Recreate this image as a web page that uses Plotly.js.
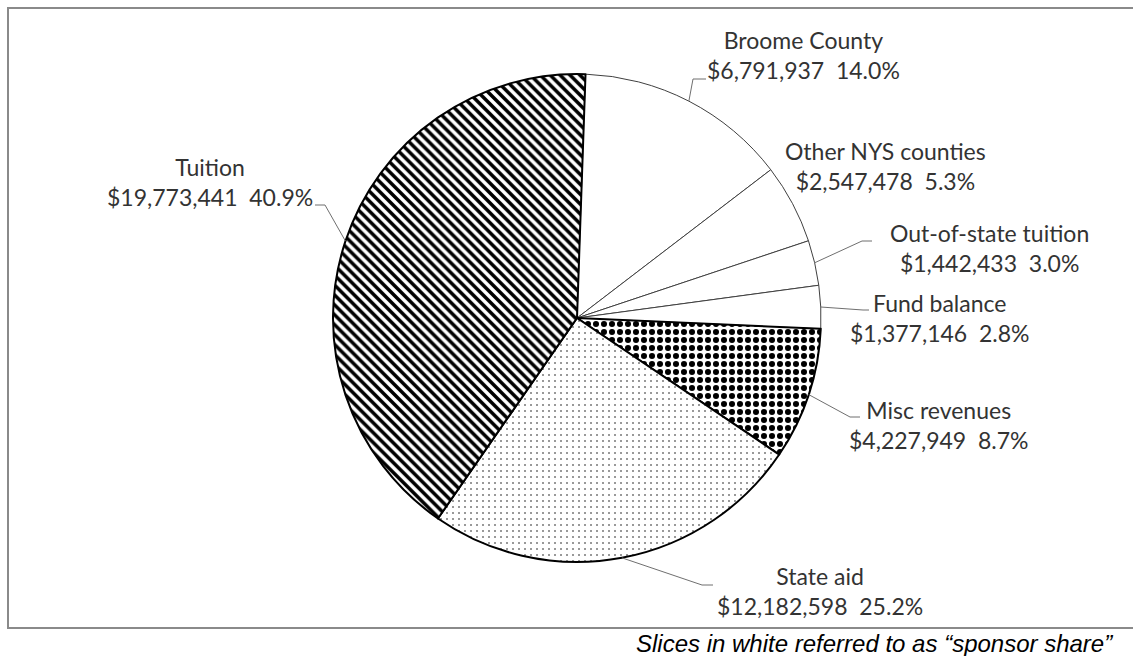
<!DOCTYPE html>
<html>
<head>
<meta charset="utf-8">
<script src="https://cdn.plot.ly/plotly-3.0.1.min.js"></script>
<style>
  html, body { margin: 0; padding: 0; background: #ffffff; }
  #chart { width: 1133px; height: 656px; }
</style>
</head>
<body>
<div id="chart"></div>
<script>
// ---- Data ----
const categories = ["Broome County", "Other NYS counties", "Out-of-state tuition", "Fund balance", "Misc revenues", "State aid", "Tuition"];
const amounts = [6791937, 2547478, 1442433, 1377146, 4227949, 12182598, 19773441];
const footnote = "Slices in white referred to as \u201csponsor share\u201d";

// ---- Styles ----
const patternShapes = ["", "", "", "", ".", ".", "\\"];
const patternSizes = [8, 8, 8, 8, 8, 6, 7];
const patternSolidity = [0.3, 0.3, 0.3, 0.3, 0.45, 0.05, 0.5];
const lineColors = ["#404040", "#404040", "#404040", "#404040", "#000000", "#000000", "#000000"];
const lineWidths = [1, 1, 1, 1, 2, 2, 2];

// ---- Layout geometry (pixels) ----
const W = 1133, H = 656;
const CX = 577, CY = 318, R = 244;
const ROTATION = 2;
const px = x => x / W;
const py = y => 1 - y / H;

// label block centres and leader elbows/ends (pixels); null = no leader
const labelPos = [[803, 55], [885, 166], [989, 248], [939, 318], [938, 425], [820, 591], [210, 182]];
const leaderElbow = [[693, 79], null, [862, 241], [863, 310], [850, 417], [702, 585], [325, 205]];
const leaderEnd = [[706, 79], null, [872, 241], [869, 310], [860, 417], [713, 585], [315, 205]];

const total = amounts.reduce((a, b) => a + b, 0);
const fmtMoney = v => "$" + String(v).replace(/\B(?=(\d{3})+(?!\d))/g, ",");

const annotations = [];
const shapes = [];
let cum = 0;
categories.forEach((cat, i) => {
  const frac = amounts[i] / total;
  const mid = (ROTATION + (cum + frac / 2) * 360) * Math.PI / 180;
  cum += frac;
  const pct = (frac * 100).toFixed(1);
  annotations.push({
    xref: "paper", yref: "paper",
    x: px(labelPos[i][0]), y: py(labelPos[i][1]),
    xanchor: "center", yanchor: "middle", align: "center",
    showarrow: false,
    text: cat + "<br>" + fmtMoney(amounts[i]) + "\u00a0 " + pct + "%",
    font: { family: "Lato, 'Open Sans', sans-serif", size: 23, color: "#333333" }
  });
  if (leaderElbow[i]) {
    const sx = CX + R * Math.sin(mid), sy = CY - R * Math.cos(mid);
    const lineStyle = { color: "#6f6f6f", width: 1 };
    shapes.push({ type: "line", xref: "paper", yref: "paper",
      x0: px(sx), y0: py(sy), x1: px(leaderElbow[i][0]), y1: py(leaderElbow[i][1]), line: lineStyle });
    shapes.push({ type: "line", xref: "paper", yref: "paper",
      x0: px(leaderElbow[i][0]), y0: py(leaderElbow[i][1]), x1: px(leaderEnd[i][0]), y1: py(leaderEnd[i][1]), line: lineStyle });
  }
});

// frame
shapes.push({ type: "rect", xref: "paper", yref: "paper",
  x0: px(8), y0: py(628), x1: px(1136), y1: py(8),
  line: { color: "#8a8a8a", width: 2 }, fillcolor: "rgba(0,0,0,0)", layer: "below" });

annotations.push({
  xref: "paper", yref: "paper", x: px(1115), y: py(643),
  xanchor: "right", yanchor: "middle", showarrow: false,
  text: "<i>" + footnote + "</i>",
  font: { family: "'Liberation Sans', Arial, sans-serif", size: 24, color: "#000000" }
});

const trace = {
  type: "pie",
  labels: categories,
  values: amounts,
  sort: false,
  direction: "clockwise",
  rotation: ROTATION,
  textinfo: "none",
  hoverinfo: "skip",
  domain: { x: [px(CX - R), px(CX + R)], y: [py(CY + R), py(CY - R)] },
  marker: {
    colors: categories.map(() => "#ffffff"),
    line: { color: lineColors, width: lineWidths },
    pattern: { shape: patternShapes, fgcolor: "#000000", bgcolor: "#ffffff",
               size: patternSizes, solidity: patternSolidity, fillmode: "replace" }
  }
};

const layout = {
  width: W, height: H,
  margin: { l: 0, r: 0, t: 0, b: 0 },
  paper_bgcolor: "#ffffff",
  showlegend: false,
  annotations: annotations,
  shapes: shapes
};

Plotly.newPlot("chart", [trace], layout, { displayModeBar: false, staticPlot: true });
</script>
</body>
</html>
